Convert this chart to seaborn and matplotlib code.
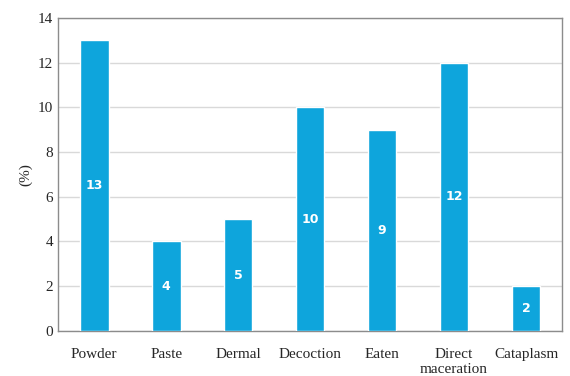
import matplotlib
matplotlib.use("Agg")
import matplotlib.pyplot as plt
import seaborn as sns
import pandas as pd

categories = ["Powder", "Paste", "Dermal", "Decoction", "Eaten", "Direct\nmaceration", "Cataplasm"]
values = [13, 4, 5, 10, 9, 12, 2]

df = pd.DataFrame({"category": categories, "value": values})

sns.set_style("white")
plt.rcParams["font.family"] = ["Liberation Serif", "DejaVu Serif"]

fig, ax = plt.subplots(figsize=(5.70, 3.76), dpi=100)
fig.subplots_adjust(left=0.102, right=0.986, top=0.952, bottom=0.12)

sns.barplot(data=df, x="category", y="value", color="#0ea5dc",
            saturation=1, width=0.4, ax=ax, zorder=3)

for i, v in enumerate(values):
    ax.text(i, v / 2, str(v), ha="center", va="center", color="white",
            fontsize=9, fontweight="bold", family="DejaVu Sans", zorder=4)

ax.set_ylim(0, 14)
ax.set_yticks(range(0, 15, 2))
ax.yaxis.grid(True, color="#d9d9d9", linewidth=1, zorder=0)
ax.set_xlabel("")
ax.set_ylabel("(%)", fontsize=11)
ax.tick_params(axis="both", labelsize=11, length=0)
ax.tick_params(axis="x", pad=12)
for s in ax.spines.values():
    s.set_color("#8c8c8c")
    s.set_linewidth(1)

fig.savefig("out.png", dpi=100)
